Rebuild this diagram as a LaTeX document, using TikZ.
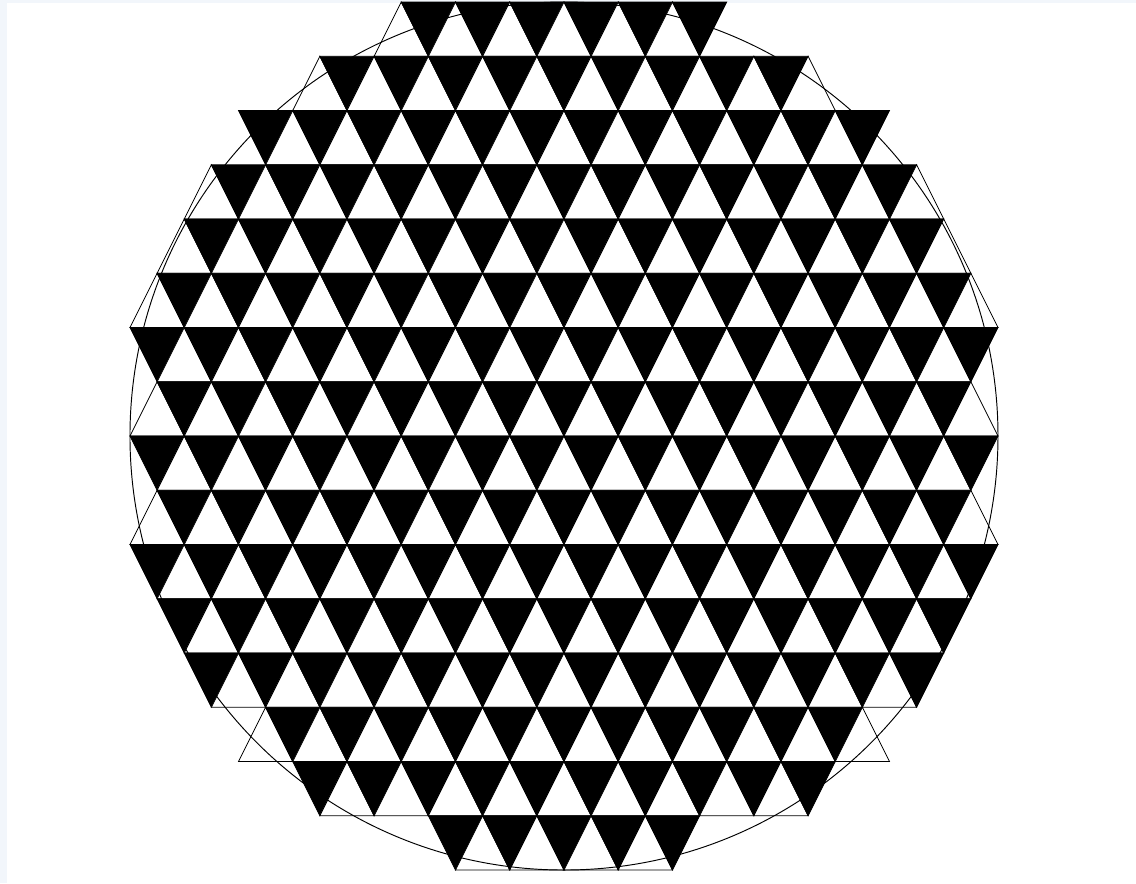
\documentclass[tikz,border=0pt]{standalone}
\usepackage{tikz}
\definecolor{edgetint}{RGB}{242,246,251}

\begin{document}
\begin{tikzpicture}[
                dark/.style={fill=black, draw=black, line width=0.4pt},
                light/.style={fill=white, draw=black, line width=0.4pt},
                rim/.style={draw=black, line width=0.5pt}
            ]
                \fill[edgetint] (-10.396,-8.24) rectangle (10.544,8.037);
                \fill[white] (-10.267,-8.24) rectangle (10.544,7.98);
                \useasboundingbox (-10.396,-8.24) rectangle (10.544,8.037);
                \foreach \r/\mlo/\mhi in {1/-6/5, 2/-9/9, 3/-11/11, 4/-13/13, 5/-14/14, 6/-15/15,
                        7/-15/15, 8/-15/15, 9/-15/15, 10/-15/15, 11/-15/15, 12/-14/14,
                        13/-13/13, 14/-11/11, 15/-9/9, 16/-4/4}{
                    \pgfmathsetmacro{\ytop}{9-\r}
                    \foreach \m in {\mlo,...,\mhi}{
                        \pgfmathtruncatemacro{\down}{mod(\m+\r+40,2)}
                        \ifnum\down=0
                            \draw[dark] ({\m/2-0.5},\ytop) -- ({\m/2+0.5},\ytop) -- ({\m/2},\ytop-1) -- cycle;
                        \else
                            \draw[light] ({\m/2-0.5},\ytop-1) -- ({\m/2+0.5},\ytop-1) -- ({\m/2},\ytop) -- cycle;
                        \fi
                    }
                }
                \draw[rim] (0,0) circle (8);
            \end{tikzpicture}
\end{document}
